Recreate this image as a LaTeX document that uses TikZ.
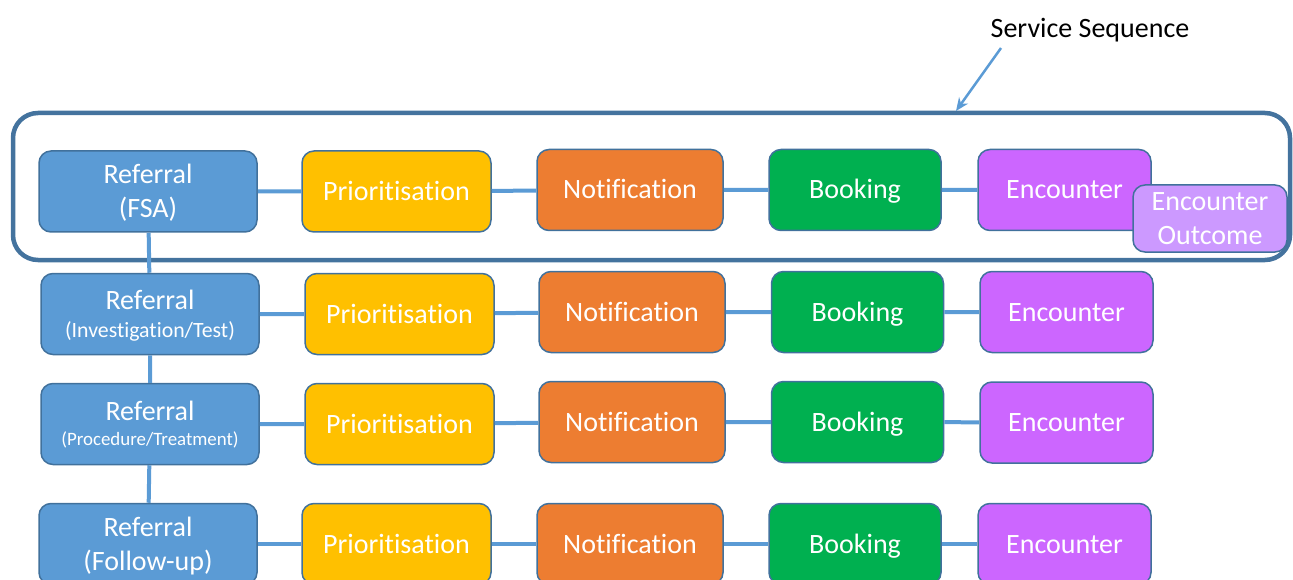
\documentclass[tikz,border=0pt]{standalone}
\usepackage{fontspec}
\setmainfont{Carlito}[Ligatures=NoCommon]
\usetikzlibrary{arrows.meta}

\definecolor{linkblue}{HTML}{5B9BD5}
\definecolor{edgeblue}{HTML}{41719C}
\definecolor{frameblue}{HTML}{44739E}
\definecolor{prioyellow}{HTML}{FFC000}
\definecolor{noteorange}{HTML}{ED7D31}
\definecolor{bookgreen}{HTML}{00B050}
\definecolor{encpurple}{HTML}{CC66FF}
\definecolor{outlilac}{HTML}{CC99FF}

\tikzset{
  stage/.style={draw=edgeblue,line width=1.5pt,rounded corners=12pt,inner sep=0pt,
    minimum height=81pt,text=white,align=center,font=\fontsize{28}{34}\selectfont,
    text height=18pt,text depth=0pt},
  refbox/.style={stage,fill=linkblue,minimum width=218pt},
  priobox/.style={stage,fill=prioyellow,minimum width=189pt},
  notebox/.style={stage,fill=noteorange,minimum width=186pt},
  bookbox/.style={stage,fill=bookgreen,minimum width=172pt},
  encbox/.style={stage,fill=encpurple,minimum width=173pt},
  outbox/.style={stage,fill=outlilac,minimum width=154pt,minimum height=67pt},
  link/.style={draw=linkblue,line width=4pt},
  pointer/.style={draw=linkblue,line width=2.5pt,-{Stealth[length=13pt,width=11pt]}}
}

\begin{document}
\begin{tikzpicture}[x=1pt,y=-1pt]
    \useasboundingbox (0,0) rectangle (1293,580);
    \clip (0,0) rectangle (1293,580);

    % service sequence frame and its label
    \draw[draw=frameblue,line width=4.5pt,rounded corners=25pt] (13,113) rectangle (1290,260);
    \node[font=\fontsize{28}{34}\selectfont,text height=18pt,text depth=0pt,inner sep=0pt] (ss) at (1090,28.5) {Service Sequence};
    \coordinate (tail) at (1001,48);
    \coordinate (tip) at (956,111);
    \draw[pointer] (tail) -- (tip);

    % row 1: FSA
    \node[refbox,text height=52pt] (r1) at (148,191.5) {Referral\\(FSA)};
    \node[priobox] (p1) at (396.5,191.5) {Prioritisation};
    \node[notebox] (n1) at (630,190) {Notification};
    \node[bookbox] (b1) at (855,190) {Booking};
    \node[encbox] (e1) at (1064.5,190) {Encounter};

    % row 2: investigation/test
    \node[refbox,text height=46pt] (r2) at (150,314) {Referral\\[-6pt]{\fontsize{21.8}{26}\selectfont (Investigation/Test)}};
    \node[priobox] (p2) at (399.5,314) {Prioritisation};
    \node[notebox] (n2) at (632,312) {Notification};
    \node[bookbox] (b2) at (857.5,312) {Booking};
    \node[encbox] (e2) at (1066.5,312) {Encounter};

    % row 3: procedure/treatment
    \node[refbox,text height=43pt] (r3) at (150,424) {Referral\\[-9pt]{\fontsize{18.9}{23}\selectfont (Procedure/Treatment)}};
    \node[priobox] (p3) at (399.5,424) {Prioritisation};
    \node[notebox] (n3) at (632,422) {Notification};
    \node[bookbox] (b3) at (857.5,422) {Booking};
    \node[encbox] (e3) at (1066.5,422.5) {Encounter};

    % row 4: follow-up
    \node[refbox,text height=52pt] (r4) at (148,544) {Referral\\(Follow-up)};
    \node[priobox] (p4) at (396.5,544) {Prioritisation};
    \node[notebox] (n4) at (630,544) {Notification};
    \node[bookbox] (b4) at (855,544) {Booking};
    \node[encbox] (e4) at (1064.5,544) {Encounter};

    % links
    \path[link] (r1) -- (p1) (p1) -- (n1) (n1) -- (b1) (b1) -- (e1);
    \path[link] (r2) -- (p2) (p2) -- (n2) (n2) -- (b2) (b2) -- (e2);
    \path[link] (r3) -- (p3) (p3) -- (n3) (n3) -- (b3) (b3) -- (e3);
    \path[link] (r4) -- (p4) (p4) -- (n4) (n4) -- (b4) (b4) -- (e4);
    \path[link] (r1) -- (r2) (r2) -- (r3) (r3) -- (r4);

    % outcome sits over the first encounter
    \node[outbox,text height=52pt] (o1) at (1210,218.5) {Encounter\\Outcome};
\end{tikzpicture}
\end{document}
